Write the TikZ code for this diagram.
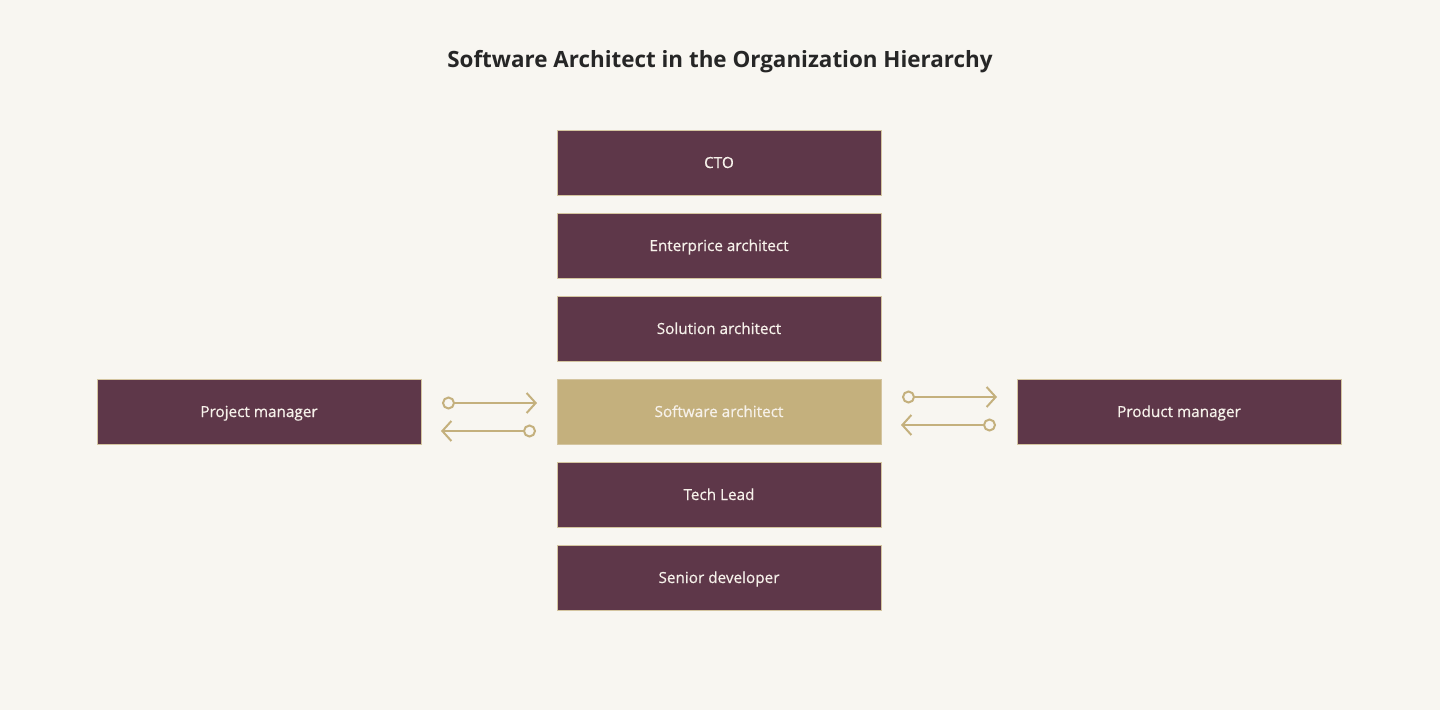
\documentclass[tikz,border=0pt]{standalone}
\usepackage{fontspec}
\setmainfont{Open Sans}
\newfontfamily\boxfont[FakeBold=0.6]{Open Sans}
\usetikzlibrary{positioning, arrows.meta}
\definecolor{paper}{HTML}{F8F6F1}
\definecolor{plum}{HTML}{5E3749}
\definecolor{gold}{HTML}{C4B07D}
\definecolor{ink}{HTML}{262626}
\definecolor{chalk}{HTML}{F6F1EA}
\tikzset{
  x=1pt, y=1pt,
  node distance=18pt,
  role/.style={draw=gold!70!paper, line width=0.8pt, outer sep=0pt, fill=plum, text=chalk,
    minimum width=324pt, minimum height=65pt, inner sep=0pt, text height=11pt, text depth=0pt,
    font=\boxfont\fontsize{15.3}{18}\selectfont},
  self/.style={role, fill=gold},
  flow/.style={draw=gold, line width=2pt, {Circle[open,length=13pt,width=13pt]}-{Straight Barb[length=9pt,width=20pt]}},
}

\begin{document}
\begin{tikzpicture}
  \fill[paper] (0,0) rectangle (1440,-710);
  \useasboundingbox (0,0) rectangle (1440,-710);

  \node[font=\bfseries\fontsize{22.4}{26}\selectfont, text=ink] (title) at (720,-61.5) {Software Architect in the Organization Hierarchy};

  \node[role] (cto) at (719,-162.5) {CTO};
  \node[role,below=of cto] (ea) {Enterprice architect};
  \node[role,below=of ea] (sol) {Solution architect};
  \node[self,below=of sol] (sa) {Software architect};
  \node[role,below=of sa] (lead) {Tech Lead};
  \node[role,below=of lead] (dev) {Senior developer};

  \node[role] (pm) at (259,-411.5) {Project manager};
  \node[role] (prod) at (1179,-411.5) {Product manager};

  % links to the side roles
  \draw[flow] ([shift={(21,8.5)}]pm.east) -- ([shift={(-20,8.5)}]sa.west);
  \draw[flow] ([shift={(-21,-19.5)}]sa.west) -- ([shift={(20,-19.5)}]pm.east);
  \draw[flow] ([shift={(21,14.5)}]sa.east) -- ([shift={(-20,14.5)}]prod.west);
  \draw[flow] ([shift={(-21,-13.5)}]prod.west) -- ([shift={(20,-13.5)}]sa.east);
\end{tikzpicture}
\end{document}
